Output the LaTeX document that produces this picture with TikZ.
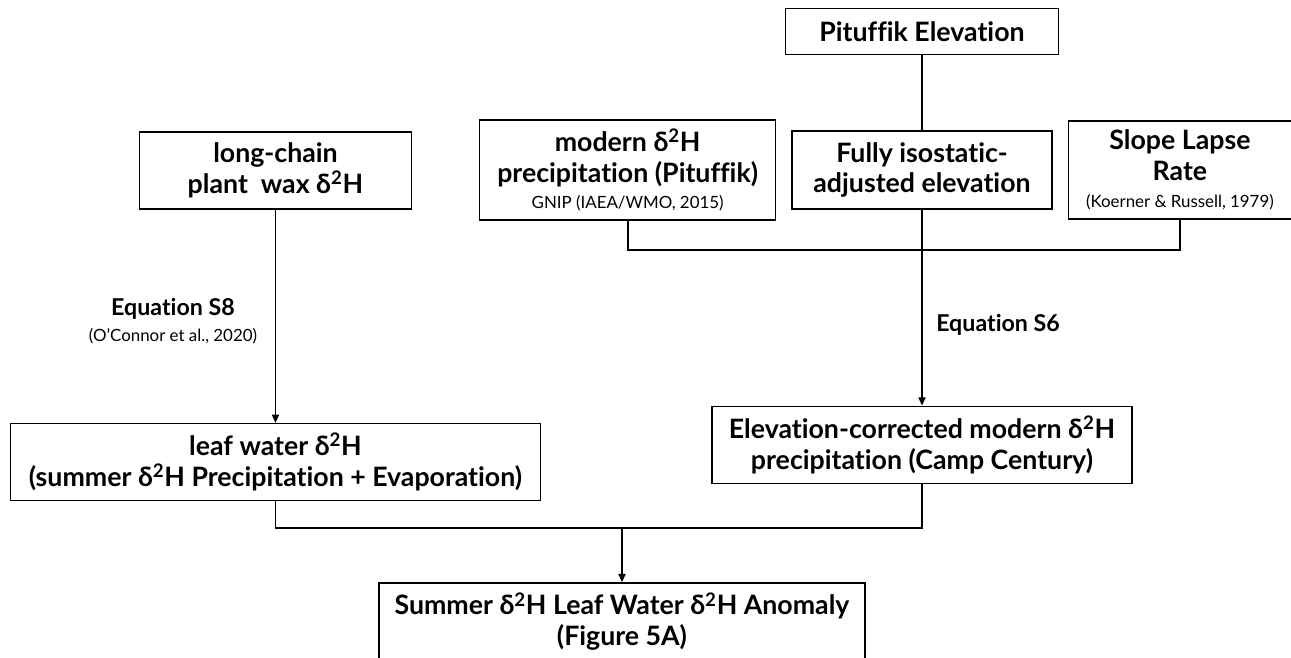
\documentclass[tikz,border=0pt]{standalone}
\usepackage{fontspec}
\setmainfont{Lato}[Ligatures=NoCommon]
\usepackage{tikz}
\usetikzlibrary{arrows.meta,positioning}
\newcommand{\dtwoH}{δ\textsuperscript{2}H}
\newcommand{\refnote}[1]{{\fontsize{12}{14}\selectfont\mdseries #1}}

\begin{document}
\begin{tikzpicture}[
        x=0.025cm, y=-0.025cm,
        box/.style={
          draw,
          fill=white,
          line width=0.9pt,
          align=center,
          inner sep=2pt,
          font=\fontsize{19}{22}\selectfont\bfseries
        },
        eqlabel/.style={
          align=center,
          inner sep=0pt,
          font=\fontsize{16.5}{20}\selectfont\bfseries
        },
        link/.style={
          line width=1.4pt
        },
        arrow/.style={
          -{Triangle[length=6pt,width=5pt]},
          line width=1.4pt
        }
      ]

      \path[use as bounding box, fill=white] (0,0) rectangle (1291,658);

      \node[box, minimum width=6.5cm, minimum height=1.95cm] (isoelev) at (922,170) {Fully isostatic-\\adjusted elevation};
      \node[box, minimum width=6.83cm, minimum height=1.15cm, above=1.875cm of isoelev] (pitelev) {Pituffik Elevation};
      \node[box, minimum width=7.4cm, minimum height=2.5cm, left=0.375cm of isoelev] (modprecip) {modern \dtwoH\\precipitation (Pituffik)\\[-3pt]\refnote{GNIP (IAEA/WMO, 2015)}};
      \node[box, minimum width=5.58cm, minimum height=2.45cm, right=0.375cm of isoelev] (lapse) {Slope Lapse\\Rate\\[-3pt]\refnote{(Koerner \& Russell, 1979)}};
      \node[box, minimum width=10.5cm, minimum height=1.93cm, below=4.9cm of isoelev] (corrprecip) {Elevation-corrected modern \dtwoH\\precipitation (Camp Century)};
      \node[box, minimum width=6.78cm, minimum height=1.93cm] (waxdH) at (275.5,170.5) {long-chain\\plant\ \ wax \dtwoH};
      \node[box, minimum width=13.25cm, minimum height=1.93cm, below=5.33cm of waxdH] (leafdH) {leaf water \dtwoH\\(summer \dtwoH{} Precipitation + Evaporation)};
      \node[box, minimum width=12.15cm, minimum height=1.93cm] (anomaly) at (622,621.5) {Summer \dtwoH{} Leaf Water \dtwoH{} Anomaly\\(Figure 5A)};

      \node[eqlabel] (eqSeight) at (173,321) {Equation S8\\[-2pt]\refnote{(O'Connor et al., 2020)}};
      \node[eqlabel, anchor=west] (eqSsix) at (936,325) {Equation S6};

      \coordinate (topbar) at (922,250);
      \coordinate (lowbar) at (622,528);

      \draw[link] (pitelev) -- (isoelev);
      \draw[link] (modprecip.south) |- (topbar) -| (lapse.south);
      \draw[arrow] (isoelev) -- (corrprecip);
      \draw[arrow] (waxdH) -- (leafdH);
      \draw[link] (leafdH.south) |- (lowbar) -| (corrprecip.south);
      \draw[arrow] (lowbar) -- (anomaly);

      \end{tikzpicture}
\end{document}
